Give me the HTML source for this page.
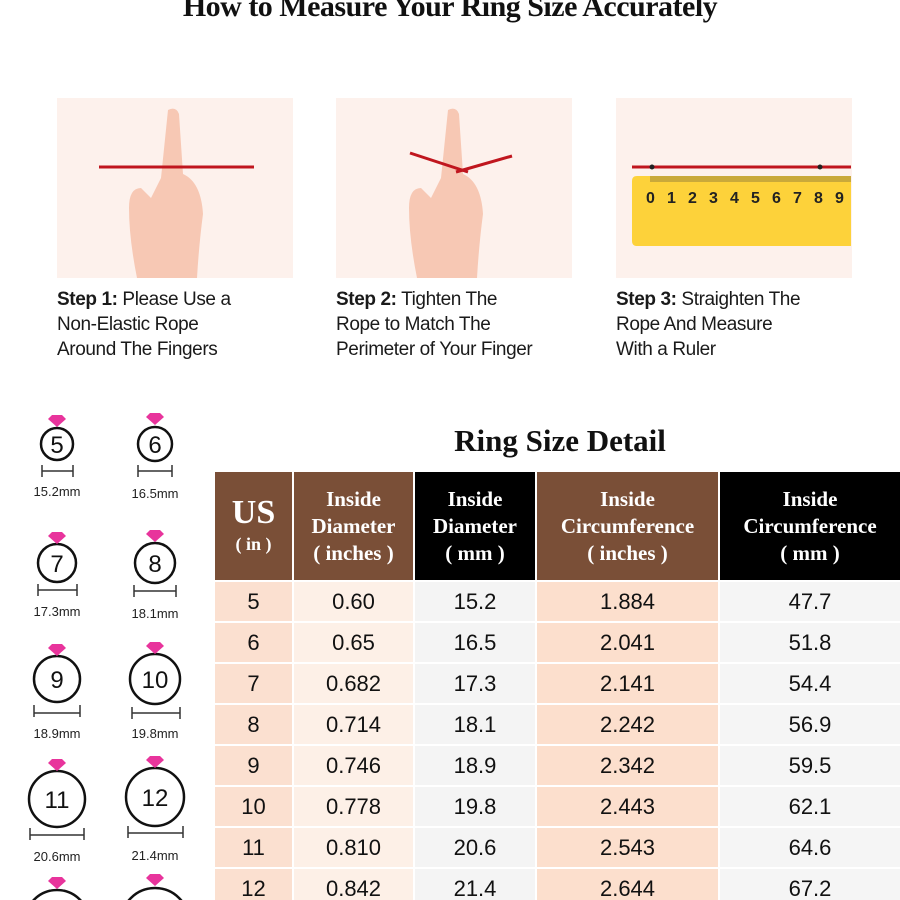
<!DOCTYPE html>
<html style="width:900px;height:900px;overflow:hidden"><head><meta charset="utf-8"><style>
*{margin:0;padding:0;box-sizing:border-box}
html,body{width:900px;height:900px;overflow:hidden;background:#fff}
#wrap{position:relative;width:900px;height:900px;overflow:hidden;font-family:"Liberation Sans",sans-serif;color:#111}
.abs{position:absolute}
.title{left:0;width:900px;top:-10px;text-align:center;font-family:"Liberation Serif",serif;font-weight:bold;font-size:30px;letter-spacing:-0.5px}
.step{font-size:19px;line-height:25px;top:287px;letter-spacing:-0.4px;color:#1a1a1a}
.step b{font-weight:bold}
.rd{font-family:"Liberation Serif",serif;font-weight:bold;font-size:31px;left:410px;width:300px;text-align:center;top:423px}
.cell{position:absolute;display:flex;align-items:center;justify-content:center;text-align:center}
.h{color:#fff;font-family:"Liberation Serif",serif;font-weight:bold;font-size:21px;line-height:27px}
.d{font-size:22px;color:#111}
</style></head><body><div id="wrap">
<div class="abs title">How to Measure Your Ring Size Accurately</div>

<svg class="abs" style="left:0;top:0" width="900" height="400">
 <rect x="57" y="98" width="236" height="180" fill="#fdf1ec"/>
 <rect x="336" y="98" width="236" height="180" fill="#fdf1ec"/>
 <rect x="616" y="98" width="236" height="180" fill="#fdf1ec"/>
 <path d="M168 110 q8 -4 11 4 l4 60 q18 8 20 40 q-4 30 -6 64 l-60 0 q-8 -40 -8 -70 q0 -20 12 -20 l10 10 l10 -20 z" fill="#f7c8b4"/>
 <line x1="99" y1="167" x2="254" y2="167" stroke="#c0161e" stroke-width="3"/>
 <path d="M448 110 q8 -4 11 4 l4 60 q18 8 20 40 q-4 30 -6 64 l-60 0 q-8 -40 -8 -70 q0 -20 12 -20 l10 10 l10 -20 z" fill="#f7c8b4"/>
 <line x1="410" y1="153" x2="468" y2="172" stroke="#c0161e" stroke-width="3"/>
 <line x1="512" y1="156" x2="456" y2="172" stroke="#c0161e" stroke-width="3"/>
 <line x1="632" y1="167" x2="851" y2="167" stroke="#c0161e" stroke-width="3"/>
 <circle cx="652" cy="167" r="2.5" fill="#222"/><circle cx="820" cy="167" r="2.5" fill="#222"/>
 <path d="M637 176 H851 V246 H637 q-5 0 -5 -5 V181 q0 -5 5 -5 z" fill="#fdd23a"/>
 <rect x="650" y="176" width="201" height="6" fill="#c9a93a"/>
 <g font-family="Liberation Sans" font-weight="bold" font-size="16" fill="#222">
  <text x="646" y="203">0</text><text x="667" y="203">1</text><text x="688" y="203">2</text><text x="709" y="203">3</text><text x="730" y="203">4</text><text x="751" y="203">5</text><text x="772" y="203">6</text><text x="793" y="203">7</text><text x="814" y="203">8</text><text x="835" y="203">9</text>
 </g>
</svg>

<div class="abs step" style="left:57px"><b>Step 1:</b> Please Use a<br>Non-Elastic Rope<br>Around The Fingers</div>
<div class="abs step" style="left:336px"><b>Step 2:</b> Tighten The<br>Rope to Match The<br>Perimeter of Your Finger</div>
<div class="abs step" style="left:616px"><b>Step 3:</b> Straighten The<br>Rope And Measure<br>With a Ruler</div>

<div class="abs rd">Ring Size Detail</div>

<svg class="abs" style="left:0;top:400px" width="215" height="500" font-family="Liberation Sans">
 <defs><g id="gem"><polygon points="-9,-3 -5,-7 5,-7 9,-3 0,5" fill="#e8349c"/></g></defs>
 <g stroke="#111" stroke-width="2.5" fill="none">
  <circle cx="57" cy="44" r="16"/><circle cx="155" cy="44" r="17"/>
  <circle cx="57" cy="163" r="19"/><circle cx="155" cy="163" r="20"/>
  <circle cx="57" cy="279" r="23"/><circle cx="155" cy="279" r="25"/>
  <circle cx="57" cy="399" r="28"/><circle cx="155" cy="397" r="29"/>
  <circle cx="57" cy="522" r="32"/><circle cx="155" cy="522" r="34"/>
 </g>
 <use href="#gem" x="57" y="22"/><use href="#gem" x="155" y="20"/>
 <use href="#gem" x="57" y="139"/><use href="#gem" x="155" y="137"/>
 <use href="#gem" x="57" y="251"/><use href="#gem" x="155" y="249"/>
 <use href="#gem" x="57" y="366"/><use href="#gem" x="155" y="363"/>
 <use href="#gem" x="57" y="484"/><use href="#gem" x="155" y="481"/>
 <g font-size="24" text-anchor="middle" fill="#111">
  <text x="57" y="53">5</text><text x="155" y="53">6</text>
  <text x="57" y="172">7</text><text x="155" y="172">8</text>
  <text x="57" y="288">9</text><text x="155" y="288">10</text>
  <text x="57" y="408">11</text><text x="155" y="406">12</text>
 </g>
 <g stroke="#333" stroke-width="1.5">
  <path d="M42 65v12M73 65v12M42 71h31"/><path d="M138 65v12M172 65v12M138 71h34"/>
  <path d="M38 184v12M77 184v12M38 190h39"/><path d="M134 185v12M176 185v12M134 191h42"/>
  <path d="M34 305v12M80 305v12M34 313h46"/><path d="M132 307v12M180 307v12M132 313h48"/>
  <path d="M30 428v12M84 428v12M30 435h54"/><path d="M128 426v12M183 426v12M128 433h55"/>
 </g>
 <g font-size="13" text-anchor="middle" fill="#222">
  <text x="57" y="96">15.2mm</text><text x="155" y="98">16.5mm</text>
  <text x="57" y="216">17.3mm</text><text x="155" y="218">18.1mm</text>
  <text x="57" y="338">18.9mm</text><text x="155" y="338">19.8mm</text>
  <text x="57" y="461">20.6mm</text><text x="155" y="460">21.4mm</text>
 </g>
</svg>

<div class="cell h" style="left:215px;top:472px;width:77px;height:108px;background:#7a4f37;flex-direction:column"><span style="font-size:34px;line-height:36px">US</span><span style="font-size:18px">( in )</span></div>
<div class="cell h" style="left:294px;top:472px;width:119px;height:108px;background:#7a4f37">Inside<br>Diameter<br>( inches )</div>
<div class="cell h" style="left:415px;top:472px;width:120px;height:108px;background:#000">Inside<br>Diameter<br>( mm )</div>
<div class="cell h" style="left:537px;top:472px;width:181px;height:108px;background:#7a4f37">Inside<br>Circumference<br>( inches )</div>
<div class="cell h" style="left:720px;top:472px;width:180px;height:108px;background:#000">Inside<br>Circumference<br>( mm )</div>

<div id="rows"></div>
</div>
<script>
var data=[["5","0.60","15.2","1.884","47.7"],["6","0.65","16.5","2.041","51.8"],["7","0.682","17.3","2.141","54.4"],["8","0.714","18.1","2.242","56.9"],["9","0.746","18.9","2.342","59.5"],["10","0.778","19.8","2.443","62.1"],["11","0.810","20.6","2.543","64.6"],["12","0.842","21.4","2.644","67.2"]];
var cols=[[215,77,"#fbe0d0"],[294,119,"#fdf0e7"],[415,120,"#f4f4f4"],[537,181,"#fcdfcd"],[720,180,"#f5f5f5"]];
var h="";
data.forEach(function(r,i){var y=582+i*41;cols.forEach(function(c,j){h+='<div class="cell d" style="left:'+c[0]+'px;top:'+y+'px;width:'+c[1]+'px;height:39px;background:'+c[2]+'">'+r[j]+'</div>';});});
document.getElementById("rows").innerHTML=h;
</script>
</body></html>
